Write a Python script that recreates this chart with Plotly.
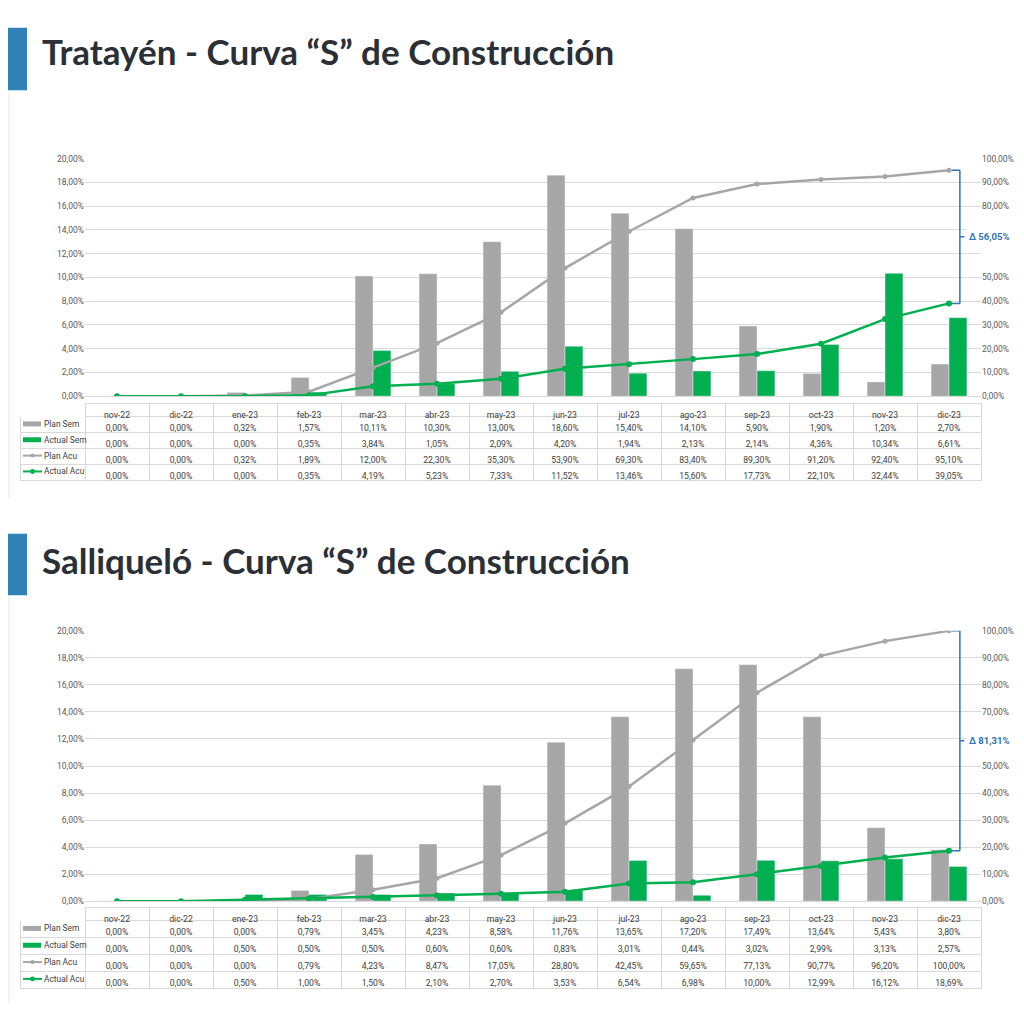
import plotly.graph_objects as go

months = ["nov-22", "dic-22", "ene-23", "feb-23", "mar-23", "abr-23", "may-23",
          "jun-23", "jul-23", "ago-23", "sep-23", "oct-23", "nov-23", "dic-23"]

# Tratayén
t_plan_sem = [0.00, 0.00, 0.32, 1.57, 10.11, 10.30, 13.00, 18.60, 15.40, 14.10, 5.90, 1.90, 1.20, 2.70]
t_actual_sem = [0.00, 0.00, 0.00, 0.35, 3.84, 1.05, 2.09, 4.20, 1.94, 2.13, 2.14, 4.36, 10.34, 6.61]
t_plan_acu = [0.00, 0.00, 0.32, 1.89, 12.00, 22.30, 35.30, 53.90, 69.30, 83.40, 89.30, 91.20, 92.40, 95.10]
t_actual_acu = [0.00, 0.00, 0.00, 0.35, 4.19, 5.23, 7.33, 11.52, 13.46, 15.60, 17.73, 22.10, 32.44, 39.05]

# Salliqueló
s_plan_sem = [0.00, 0.00, 0.00, 0.79, 3.45, 4.23, 8.58, 11.76, 13.65, 17.20, 17.49, 13.64, 5.43, 3.80]
s_actual_sem = [0.00, 0.00, 0.50, 0.50, 0.50, 0.60, 0.60, 0.83, 3.01, 0.44, 3.02, 2.99, 3.13, 2.57]
s_plan_acu = [0.00, 0.00, 0.00, 0.79, 4.23, 8.47, 17.05, 28.80, 42.45, 59.65, 77.13, 90.77, 96.20, 100.00]
s_actual_acu = [0.00, 0.00, 0.50, 1.00, 1.50, 2.10, 2.70, 3.53, 6.54, 6.98, 10.00, 12.99, 16.12, 18.69]

titles = ["Tratayén - Curva “S” de Construcción", "Salliqueló - Curva “S” de Construcción"]
row_names = ["Plan Sem", "Actual Sem", "Plan Acu", "Actual Acu"]

# right-axis ticks (those hidden behind the delta label in the reference are left out)
right_ticks_t = [0, 10, 20, 30, 40, 50, 80, 90, 100]
right_ticks_s = [0, 10, 20, 30, 40, 50, 70, 80, 90, 100]

GRAY = "#a6a6a6"
GREEN = "#00b050"
BLUE = "#2e75b6"
TITLE_BLUE = "#2e82b5"
TXT = "#404040"

# page has an 8px body margin; figure fills the rest of the 1024px window
OFF = 8
S = 1024 - OFF


def X(px):
    return (px - OFF) / S


def Y(py):
    return 1 - (py - OFF) / S


def fmt(v):
    return f"{v:.2f}".replace(".", ",") + "%"


fig = go.Figure()

panels = [
    dict(data=(t_plan_sem, t_actual_sem, t_plan_acu, t_actual_acu), rt=right_ticks_t, top=155, bot=395,
         tab_top=402, hdr=13, row=16, title_y=46, bar=(23, 86), xa="x", ya="y", ya2="y2"),
    dict(data=(s_plan_sem, s_actual_sem, s_plan_acu, s_actual_acu), rt=right_ticks_s, top=632, bot=905,
         tab_top=911, hdr=13, row=17, title_y=560, bar=(534, 596), xa="x2", ya="y3", ya2="y4"),
]

PX0, PX1 = 85, 981
tick_font = dict(family="Roboto", size=8.5, color="#595959")

for i, p in enumerate(panels):
    ps, as_, pa, aa = p["data"]
    xa, ya, ya2 = p["xa"], p["ya"], p["ya2"]
    fig.add_trace(go.Bar(x=months, y=ps, marker_color=GRAY, xaxis=xa, yaxis=ya, name="Plan Sem"))
    fig.add_trace(go.Bar(x=months, y=as_, marker_color=GREEN, xaxis=xa, yaxis=ya, name="Actual Sem"))
    fig.add_trace(go.Scatter(x=months, y=pa, mode="lines+markers", line=dict(color=GRAY, width=2.5),
                             marker=dict(size=5, color=GRAY), xaxis=xa, yaxis=ya2, name="Plan Acu"))
    fig.add_trace(go.Scatter(x=months, y=aa, mode="lines+markers", line=dict(color=GREEN, width=2.5),
                             marker=dict(size=6, color=GREEN), xaxis=xa, yaxis=ya2, name="Actual Acu"))

    # data table (first column drawn empty, labels + symbols overlaid)
    header = [""] + months
    cols = [[""] * 4] + [[fmt(ps[j]), fmt(as_[j]), fmt(pa[j]), fmt(aa[j])] for j in range(len(months))]
    tt, hh, rh = p["tab_top"], p["hdr"], p["row"]
    tb = tt + hh + 4 * rh
    fig.add_trace(go.Table(
        domain=dict(x=[X(20), X(PX1)], y=[Y(tb + 2), Y(tt)]),
        columnwidth=[65] + [64] * len(months),
        header=dict(values=header, height=hh, fill_color="white",
                    line=dict(color=["white"] + ["#d9d9d9"] * len(months), width=1),
                    font=dict(family="Roboto", size=8.7, color=TXT), align="center"),
        cells=dict(values=cols, height=rh, fill_color="white",
                   line=dict(color="#d9d9d9", width=1),
                   font=dict(family="Roboto", size=8.7, color=TXT),
                   align="center"),
    ))
    sym_colors = [GRAY, GREEN, GRAY, GREEN]
    for r, name in enumerate(row_names):
        cy = tt + hh + rh * r + rh / 2
        c = sym_colors[r]
        if r < 2:
            fig.add_shape(type="rect", xref="paper", yref="paper", x0=X(23), x1=X(41),
                          y0=Y(cy + 2.5), y1=Y(cy - 2.5), fillcolor=c, line=dict(width=0))
        else:
            fig.add_shape(type="line", xref="paper", yref="paper", x0=X(23), x1=X(42),
                          y0=Y(cy), y1=Y(cy), line=dict(color=c, width=2))
            rad = 2 if r == 2 else 2.5
            fig.add_shape(type="circle", xref="paper", yref="paper", x0=X(32.5 - rad), x1=X(32.5 + rad),
                          y0=Y(cy + rad), y1=Y(cy - rad), fillcolor=c, line=dict(color=c, width=0))
        fig.add_annotation(x=X(42), y=Y(cy), xref="paper", yref="paper", xanchor="left",
                           yanchor="middle", text=name, showarrow=False,
                           font=dict(family="Roboto", size=8.4, color=TXT))

    # axes
    xkey = "xaxis" if xa == "x" else "xaxis2"
    yk = "yaxis" if ya == "y" else "yaxis3"
    yk2 = "yaxis2" if ya2 == "y2" else "yaxis4"
    dom = [Y(p["bot"]), Y(p["top"])]
    fig.layout[xkey] = dict(domain=[X(PX0), X(PX1)], anchor=ya, showticklabels=False, showgrid=False,
                            showline=True, linecolor="#d9d9d9", ticks="", range=[-0.5, 13.5])
    fig.layout[yk] = dict(domain=dom, anchor=xa, range=[0, 20], dtick=2, tickformat=".2f",
                          ticksuffix="%", showgrid=True, gridcolor="#d9d9d9", gridwidth=1,
                          zeroline=False, tickfont=tick_font, showline=False)
    fig.layout[yk2] = dict(domain=dom, anchor=xa, overlaying=ya, side="right", range=[0, 100],
                           tickmode="array", tickvals=p["rt"], ticktext=[fmt(v) for v in p["rt"]],
                           showgrid=False, zeroline=False, tickfont=tick_font, showline=False)

    # delta bracket
    top_v, bot_v = pa[-1], aa[-1]
    mid_v = (top_v + bot_v) / 2
    n = len(months) - 1
    bx = n + 0.17
    for (x0, y0, x1, y1) in [(bx, top_v, bx, bot_v), (n + 0.04, top_v, bx, top_v),
                             (n + 0.04, bot_v, bx, bot_v), (bx, mid_v, n + 0.24, mid_v)]:
        fig.add_shape(type="line", xref=xa, yref=ya2, x0=x0, y0=y0, x1=x1, y1=y1,
                      line=dict(color=BLUE, width=1.5))
    fig.add_annotation(x=n + 0.27, y=mid_v, xref=xa, yref=ya2, xanchor="left", yanchor="middle",
                       text="<b>Δ " + f"{top_v - bot_v:.2f}".replace(".", ",") + "%</b>",
                       showarrow=False, bgcolor="white", borderpad=2,
                       font=dict(family="Roboto", size=9.5, color=BLUE))

    # title
    b0, b1 = p["bar"]
    fig.add_shape(type="rect", xref="paper", yref="paper", x0=X(8), x1=X(27),
                  y0=Y(b1), y1=Y(b0), fillcolor=TITLE_BLUE, line=dict(width=0))
    fig.add_annotation(x=X(40), y=Y(p["title_y"]), xref="paper", yref="paper",
                       xanchor="left", yanchor="middle", showarrow=False,
                       text="<b>" + titles[i] + "</b>",
                       font=dict(family="Lato", size=35, color="#2b2f36"))
    # faint slide edge
    fig.add_shape(type="line", xref="paper", yref="paper", x0=X(9), x1=X(9),
                  y0=Y(b1 + 412), y1=Y(b1 + 2), line=dict(color="#e3e3e3", width=1))

fig.update_layout(
    width=S, height=S, margin=dict(l=0, r=0, t=0, b=0),
    paper_bgcolor="white", plot_bgcolor="white", showlegend=False,
    barmode="group", bargap=0.44, bargroupgap=0, separators=",.",
    hovermode=False,
)

fig.write_html("out.html")
